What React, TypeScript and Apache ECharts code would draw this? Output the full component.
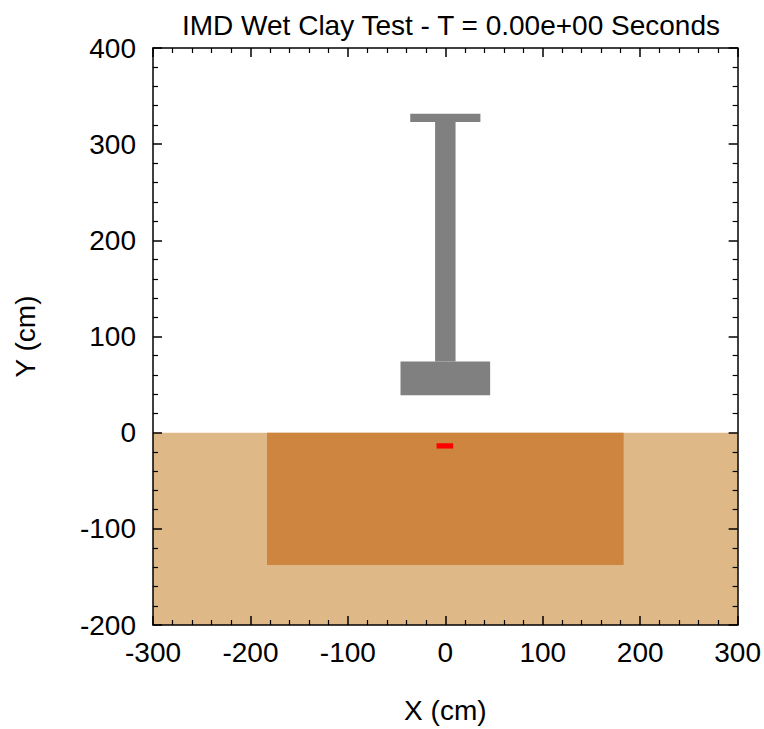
import React, { useEffect, useRef } from "react";
import * as echarts from "echarts";

// Axis extents and ticks (cm)
const xRange = [-300, 300];
const yRange = [-200, 400];
const tickStep = 100;

// Rectangular material regions: [x0, x1] × [y0, y1] in cm
const regionNames = ["Soil", "Clay bed", "Sensor", "Impactor plate", "Impactor stem", "Impactor cap"];
const regionX0 = [-300, -183, -9, -46, -10.5, -36];
const regionX1 = [300, 183, 8, 46, 10.5, 36];
const regionY0 = [-200, -137.5, -16.5, 39, 74, 323];
const regionY1 = [0, 0, -11, 74, 323, 331.5];
const regionColors = ["#DEB887", "#CD853F", "#FF0000", "#808080", "#808080", "#808080"];

const titleText = "IMD Wet Clay Test - T = 0.00e+00 Seconds";

const FONT = "'Liberation Sans', Arial, Helvetica, sans-serif";

export default function App() {
  const ref = useRef<HTMLDivElement>(null);

  useEffect(() => {
    if (!ref.current) return;
    const chart = echarts.init(ref.current, null, { renderer: "svg" });

    const data = regionNames.map((name, i) => ({
      name,
      value: [regionX0[i], regionX1[i], regionY0[i], regionY1[i]],
      itemStyle: { color: regionColors[i] },
    }));

    const axisBase = {
      type: "value" as const,
      interval: tickStep,
      z: 10,
      axisLine: { show: true, onZero: false, lineStyle: { color: "#000", width: 1.5 } },
      axisTick: { show: true, inside: true, length: 9, lineStyle: { color: "#000", width: 1.5 } },
      minorTick: { show: true, splitNumber: 5, length: 5, lineStyle: { color: "#000", width: 1.2 } },
      splitLine: { show: false },
    };
    const labelStyle = { color: "#000", fontSize: 28, fontFamily: FONT };

    chart.setOption({
      animation: false,
      backgroundColor: "#fff",
      title: {
        text: titleText,
        left: 446,
        top: 6,
        textAlign: "center",
        textStyle: { color: "#000", fontSize: 28, fontWeight: "normal", fontFamily: FONT },
      },
      grid: { left: 153, top: 48, width: 586, height: 584 },
      xAxis: [
        {
          ...axisBase,
          position: "bottom",
          min: xRange[0],
          max: xRange[1],
          name: "X (cm)",
          nameLocation: "middle",
          nameGap: 71,
          nameTextStyle: labelStyle,
          axisLabel: { ...labelStyle, margin: 13 },
        },
        {
          ...axisBase,
          position: "top",
          min: xRange[0],
          max: xRange[1],
          axisLabel: { show: false },
        },
      ],
      yAxis: [
        {
          ...axisBase,
          position: "left",
          min: yRange[0],
          max: yRange[1],
          name: "Y (cm)",
          nameLocation: "middle",
          nameGap: 114,
          nameTextStyle: labelStyle,
          axisLabel: { ...labelStyle, margin: 17 },
        },
        {
          ...axisBase,
          position: "right",
          min: yRange[0],
          max: yRange[1],
          axisLabel: { show: false },
        },
      ],
      series: [
        {
          type: "custom",
          xAxisIndex: 0,
          yAxisIndex: 0,
          z: 1,
          clip: true,
          encode: { x: [0, 1], y: [2, 3] },
          data,
          renderItem: (params: any, api: any) => {
            const tl = api.coord([api.value(0), api.value(3)]);
            const br = api.coord([api.value(1), api.value(2)]);
            return {
              type: "rect",
              shape: { x: tl[0], y: tl[1], width: br[0] - tl[0], height: br[1] - tl[1] },
              style: { fill: api.visual("color") },
            };
          },
        },
      ],
    });

    return () => chart.dispose();
  }, []);

  return (
    <div
      ref={ref}
      style={{ position: "absolute", left: 0, top: 0, width: 764, height: 729 }}
    />
  );
}
